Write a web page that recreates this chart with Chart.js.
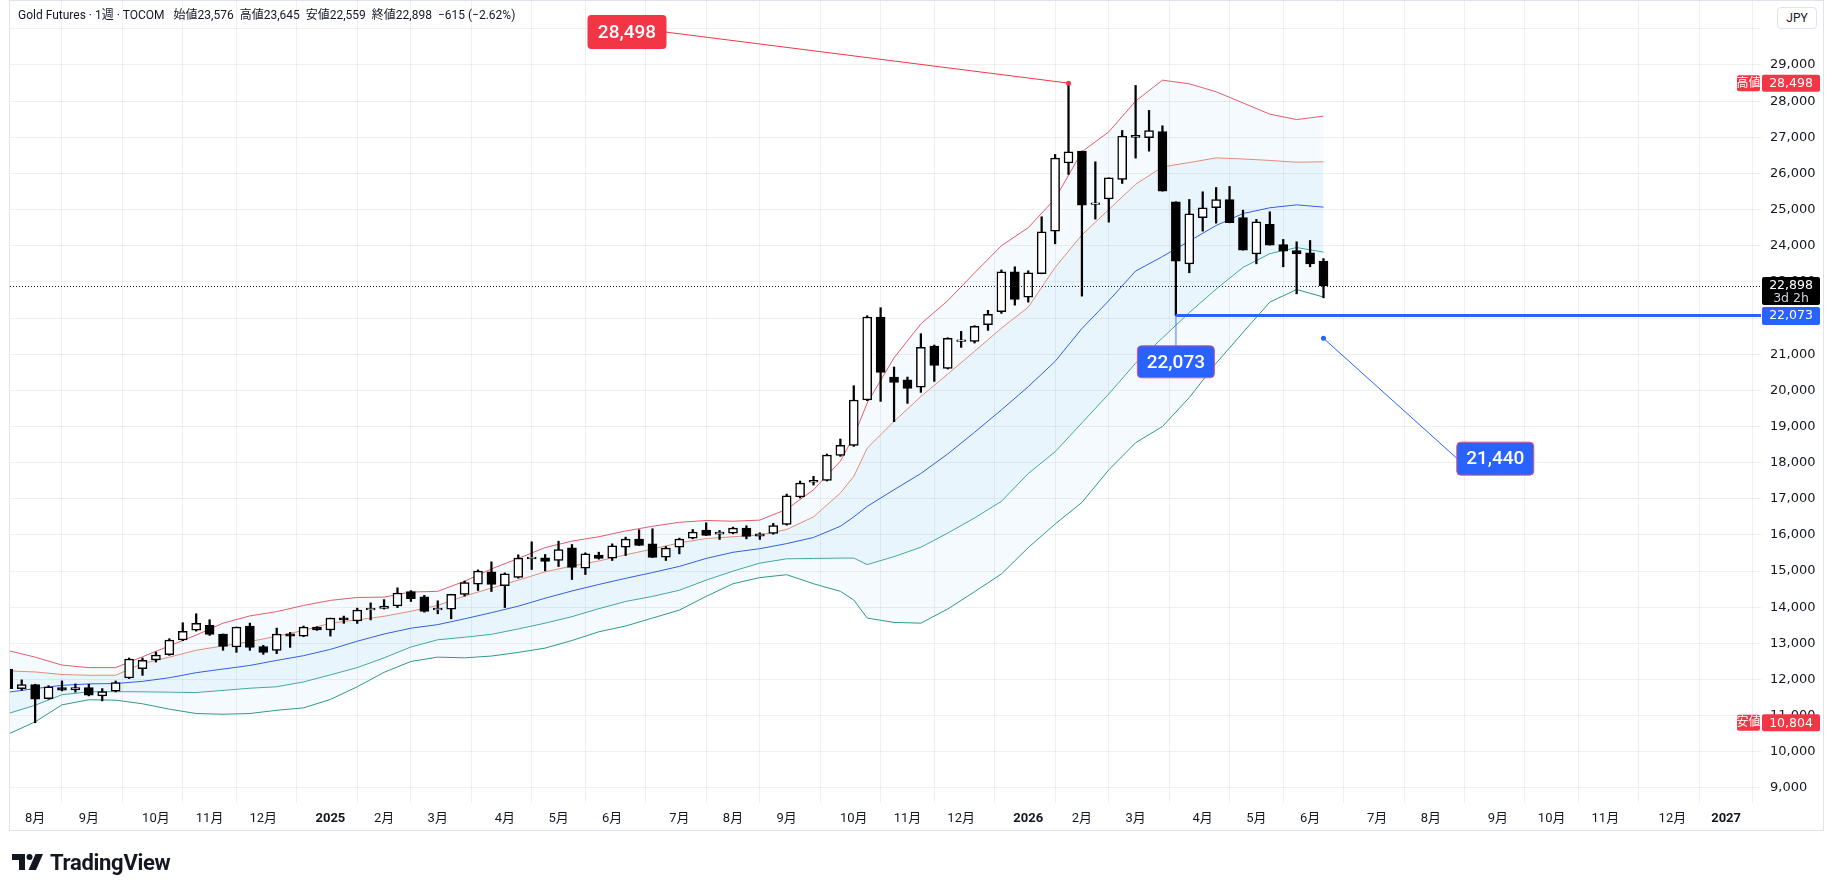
<!DOCTYPE html>
<html>
<head>
<meta charset="utf-8">
<script src="https://cdn.jsdelivr.net/npm/chart.js@4.4.1/dist/chart.umd.min.js"></script>
<style>
html, body { margin: 0; padding: 0; background: #fff; }
#wrap { position: relative; width: 1825px; height: 891px; overflow: hidden; font-family: Roboto, "Noto Sans CJK JP", sans-serif; }
#chart { position: absolute; left: 0; top: 0; }
#legend { position: absolute; left: 18px; top: 8px; font-size: 12px; line-height: 15px; color: #131722; white-space: pre; }
#legend span { margin-left: 6px; }
#ccy { position: absolute; left: 1777px; top: 7px; width: 38px; height: 20px; border: 1px solid #e0e3eb; border-radius: 4px; font-size: 12px; line-height: 20px; text-align: center; color: #131722; background: #fff; }
#logo { position: absolute; left: 12px; top: 851px; height: 22px; display: flex; align-items: center; }
#logo span { font-weight: bold; font-size: 22px; color: #131722; margin-left: 7px; letter-spacing: -0.3px; }
</style>
</head>
<body>
<div id="wrap">
  <canvas id="chart" width="1825" height="891"></canvas>
  <div id="legend">Gold Futures · 1週 · TOCOM <span>始値23,576</span><span>高値23,645</span><span>安値22,559</span><span>終値22,898</span><span>−615 (−2.62%)</span></div>
  <div id="ccy">JPY</div>
  <div id="logo">
    <svg width="31" height="16" viewBox="0 0 31 16"><path d="M0 0h13v16H7V6H0z" fill="#131722"/><circle cx="17.5" cy="3" r="3" fill="#131722"/><path d="M23.5 0H31l-7 16h-7.5z" fill="#131722"/></svg>
    <span>TradingView</span>
  </div>
</div>
<script>
// weekly candles, index 0 = week of 2024-07-22
const opens  = [12280,11750,11860,11474,11777,11713,11777,11548,11676,12044,12300,12540,12688,13093,13368,13498,13258,12900,13480,12910,
                12808,13267,13203,13452,13370,13710,13620,13925,13970,14040,14436,14290,13925,13950,14355,14637,14979,14600,14822,15340,
                15367,15293,15643,15080,15440,15357,15662,15883,15754,15385,15662,15911,16133,16022,16050,16188,15966,16040,16290,17049,
                17460,17510,18201,18478,19732,22028,20368,20294,20091,21226,20608,21350,21355,21816,22173,23279,22579,23224,24404,26294,
                26617,25140,25298,25833,26995,26986,27161,25216,23500,24773,25050,25280,24782,23777,24589,24035,23869,23805,23576];
const highs  = [12300,11990,11870,11830,11962,11880,11870,11750,11960,12596,12596,12762,13130,13571,13820,13654,13260,13452,13562,12946,
                13424,13304,13480,13460,13700,13756,13976,14120,14210,14537,14460,14330,14177,14360,14725,15034,15255,14951,15450,15810,
                15459,15828,15736,15505,15523,15754,15939,16142,16170,15680,15911,16151,16336,16123,16216,16253,16059,16320,17130,17491,
                17621,18238,18653,20128,22064,22286,20645,20368,21567,21253,21456,21631,21788,22212,23330,23418,23307,24801,26525,28498,
                26617,26322,25879,27189,28433,27742,27318,25216,25280,25492,25612,25640,24985,24727,24939,24174,24109,24146,23645];
const lows   = [11700,11705,10804,11455,11686,11650,11548,11410,11658,12026,12116,12484,12670,13074,13340,13222,12808,12753,12808,12697,
                12716,12890,13185,13360,13203,13553,13553,13650,13950,13991,14160,13864,13818,13680,14306,14463,14435,13991,14803,15043,
                15006,15127,14767,14905,15330,15293,15431,15708,15376,15293,15477,15892,15985,15874,16031,15892,15874,16020,16270,17021,
                17381,17492,18174,18450,19713,19695,19133,19640,19944,20248,20590,21189,21309,21659,22130,22357,22440,23224,24054,25972,
                22606,24736,24653,25723,26423,26617,25511,22073,23252,24404,24625,24635,23879,23500,24017,23418,22670,23418,22559];
const closes = [11750,11860,11455,11796,11704,11777,11566,11667,11915,12568,12530,12679,13093,13332,13553,13250,12918,13452,12890,12752,
                13258,13203,13452,13370,13700,13646,13921,13975,14030,14395,14240,13882,13975,14360,14680,14997,14633,14924,15357,15390,
                15265,15597,15099,15477,15348,15699,15883,15708,15376,15634,15883,16077,15985,16077,16188,15957,16031,16260,17085,17436,
                17510,18211,18478,19732,22028,20497,20220,20055,21189,20691,21438,21400,21770,22101,23279,22514,23252,24386,26423,26599,
                25123,25190,25879,27032,27051,27189,25511,23574,24883,25050,25280,24635,23879,24662,24017,23851,23777,23500,22898];

// band lines (read at these candle indices)
const bandIdx = [0,2,4,6,8,10,12,14,16,18,20,22,24,26,28,30,32,34,36,38,40,42,44,46,48,50,52,54,56,58,60,62,63,64,66,68,70,72,74,76,78,80,82,84,86,88,90,92,94,96,98];
const upper2 = [12800,12620,12400,12330,12330,12630,12930,13230,13560,13760,13880,14050,14190,14270,14280,14420,14440,14720,15060,15350,
                15650,15830,15950,16110,16240,16350,16400,16380,16410,16710,17250,18040,18730,19650,20900,21840,22480,23250,24000,24500,
                25300,26600,27150,28000,28580,28480,28260,27950,27640,27490,27585];
const upper1 = [12240,12210,12140,12118,12120,12440,12620,12810,12930,13050,13200,13360,13560,13650,13750,13890,14050,14310,14530,14750,
                14980,15140,15280,15450,15610,15780,15900,15950,16000,16150,16500,17160,17620,18400,19140,19830,20450,21080,21720,22300,
                23400,24300,25000,25700,26180,26300,26430,26400,26360,26310,26322];
const middle = [11650,11750,11840,11880,11890,11950,12050,12190,12290,12390,12530,12660,12835,13060,13260,13420,13520,13680,13850,14030,
                14250,14450,14630,14800,14960,15130,15350,15520,15620,15760,15930,16240,16500,16790,17250,17700,18240,18840,19460,20100,
                20800,21710,22480,23300,23700,24130,24560,24890,25050,25130,25068];
const lower1 = [11060,11290,11580,11660,11665,11660,11650,11640,11700,11760,11800,11934,12130,12330,12600,12900,13100,13170,13250,13400,
                13560,13740,13960,14160,14300,14470,14750,15000,15220,15340,15350,15360,15360,15180,15400,15660,16050,16470,16930,17700,
                18300,19100,19900,20750,21450,22150,22800,23400,23780,23950,23823];
const lower2 = [10490,10830,11300,11440,11430,11330,11180,11060,11040,11060,11150,11216,11450,11800,12200,12500,12620,12600,12650,12750,
                12870,13080,13320,13480,13700,13920,14300,14650,14820,14900,14650,14440,14200,13700,13580,13560,13950,14430,14920,15650,
                16300,16900,17800,18550,19000,19800,20750,21600,22440,22790,22580];

// time axis: candle index of first week of each month
const monthTickIdx = [2,6,11,15,19,24,28,32,37,41,45,50,54,58,63,67,71,76,80,84,89,93,97,102,106,111,115,119,124,128];
const monthTickLabels = ['8月','9月','10月','11月','12月','2025','2月','3月','4月','5月','6月','7月','8月','9月','10月','11月','12月',
                         '2026','2月','3月','4月','5月','6月','7月','8月','9月','10月','11月','12月','2027'];
const priceTicks = [9000,10000,11000,12000,13000,14000,15000,16000,17000,18000,19000,20000,21000,22000,23000,24000,25000,26000,27000,28000,29000,30000];

// marked levels
const rangeHigh = 28498, rangeHighIdx = 79;
const rangeLow = 10804;
const lastClose = 22898;
const supportLevel = 22073, supportIdx = 87;
const targetLevel = 21440, targetIdx = 98;

const FONT = 'Roboto, "Noto Sans CJK JP", sans-serif';
const AXIS_FONT = '"DejaVu Sans", "Noto Sans CJK JP", sans-serif';
const GRID = 'rgba(42,46,57,0.07)';

const overlay = {
  id: 'overlay',
  afterDraw(chart) {
    const { ctx, chartArea: a, scales: { x, y } } = chart;
    ctx.save();

    // frame
    ctx.strokeStyle = '#e0e3eb';
    ctx.lineWidth = 1;
    ctx.strokeRect(9.5, 0.5, 1814, 830);

    // last price dotted line
    const yLast = y.getPixelForValue(lastClose);
    ctx.strokeStyle = '#131722';
    ctx.setLineDash([1, 2]);
    ctx.beginPath(); ctx.moveTo(a.left, Math.round(yLast) + 0.5); ctx.lineTo(a.right, Math.round(yLast) + 0.5); ctx.stroke();
    ctx.setLineDash([]);

    // support line
    const yS = y.getPixelForValue(supportLevel);
    const xS = x.getPixelForValue(supportIdx);
    ctx.strokeStyle = 'rgba(41,98,255,0.45)';
    ctx.lineWidth = 2;
    ctx.beginPath(); ctx.moveTo(xS, yS); ctx.lineTo(xS, yS + 32); ctx.stroke();
    ctx.strokeStyle = '#2962ff';
    ctx.lineWidth = 3;
    ctx.beginPath(); ctx.moveTo(xS, yS); ctx.lineTo(a.right, yS); ctx.stroke();

    // callouts
    function box(cx, cy, w, h, fill, stroke, text) {
      ctx.beginPath();
      ctx.roundRect(cx - w / 2, cy - h / 2, w, h, 4);
      ctx.fillStyle = fill; ctx.fill();
      if (stroke) { ctx.strokeStyle = stroke; ctx.lineWidth = 1; ctx.stroke(); }
      ctx.fillStyle = '#fff';
      ctx.font = '500 19px ' + FONT;
      ctx.textAlign = 'center'; ctx.textBaseline = 'middle';
      ctx.fillText(text, cx, cy + 1);
    }
    function dot(px, py, color) {
      ctx.beginPath(); ctx.arc(px, py, 2.5, 0, Math.PI * 2); ctx.fillStyle = color; ctx.fill();
    }

    // high callout
    const xH = x.getPixelForValue(rangeHighIdx), yH = y.getPixelForValue(rangeHigh);
    const bxH = x.getPixelForValue(46.1), byH = y.getPixelForValue(29910);
    ctx.strokeStyle = '#f23645'; ctx.lineWidth = 1;
    ctx.beginPath(); ctx.moveTo(bxH + 39, byH); ctx.lineTo(xH, yH); ctx.stroke();
    dot(xH, yH, '#f23645');
    box(bxH, byH, 79, 34, '#f23645', null, rangeHigh.toLocaleString('en-US'));

    // support callout
    box(xS, y.getPixelForValue(20790), 77, 32, '#2962ff', '#d05a86', supportLevel.toLocaleString('en-US'));

    // target callout
    const xT = x.getPixelForValue(targetIdx), yT = y.getPixelForValue(targetLevel);
    const bxT = x.getPixelForValue(110.8), byT = y.getPixelForValue(18110);
    ctx.strokeStyle = '#2962ff'; ctx.lineWidth = 1;
    ctx.beginPath(); ctx.moveTo(xT, yT); ctx.lineTo(bxT - 38, byT); ctx.stroke();
    dot(xT, yT, '#2962ff');
    box(bxT, byT, 77, 33, '#2962ff', '#d05a86', targetLevel.toLocaleString('en-US'));

    // price axis tags
    const ax = a.right + 1, aw = 58;
    function tag(v, bg, text, h, sub) {
      const py = y.getPixelForValue(v);
      ctx.fillStyle = bg;
      ctx.beginPath(); ctx.roundRect(ax, py - 8.5, aw, h, 2); ctx.fill();
      ctx.fillStyle = '#fff';
      ctx.font = '12.5px ' + AXIS_FONT;
      ctx.textAlign = 'center'; ctx.textBaseline = 'middle';
      ctx.fillText(text, ax + aw / 2, py + 0.5);
      if (sub) {
        ctx.fillStyle = '#d1d4dc';
        ctx.fillText(sub, ax + aw / 2, py + 13);
      }
    }
    function sideTag(v, text) {
      const py = y.getPixelForValue(v);
      ctx.fillStyle = '#f23645';
      ctx.beginPath(); ctx.roundRect(a.right - 24, py - 8, 23, 16, 2); ctx.fill();
      ctx.fillStyle = '#fff';
      ctx.font = '12px ' + FONT;
      ctx.textAlign = 'center'; ctx.textBaseline = 'middle';
      ctx.fillText(text, a.right - 12.5, py + 0.5);
    }
    tag(lastClose, '#000', lastClose.toLocaleString('en-US'), 28, '3d 2h');
    tag(supportLevel, '#2962ff', supportLevel.toLocaleString('en-US'), 18);
    tag(rangeHigh, '#f23645', rangeHigh.toLocaleString('en-US'), 17);
    sideTag(rangeHigh, '高値');
    tag(rangeLow, '#f23645', rangeLow.toLocaleString('en-US'), 17);
    sideTag(rangeLow, '安値');

    ctx.restore();
  }
};

function bandSet(values, color, fillTarget, fillColor) {
  return {
    type: 'line',
    data: bandIdx.map((v, k) => ({ x: v, y: values[k] })),
    borderColor: color,
    borderWidth: 1,
    pointRadius: 0,
    tension: 0,
    fill: fillTarget === null ? false : { target: fillTarget },
    backgroundColor: fillColor,
    order: 3
  };
}

new Chart(document.getElementById('chart').getContext('2d'), {
  type: 'bar',
  data: {
    datasets: [
      bandSet(upper2, '#e35d6a', 4, 'rgba(33,150,243,0.05)'),
      bandSet(upper1, '#ee8a70', 3, 'rgba(33,150,243,0.05)'),
      bandSet(middle, '#3358e0', null, 'transparent'),
      bandSet(lower1, '#45a89c', null, 'transparent'),
      bandSet(lower2, '#2f9a85', null, 'transparent'),
      {
        type: 'bar',
        data: lows.map((l, i) => ({ x: i, y: [l, highs[i]] })),
        backgroundColor: '#000',
        barThickness: 1.6,
        grouped: false,
        order: 2
      },
      {
        type: 'bar',
        data: opens.map((o, i) => ({ x: i, y: [o, closes[i]] })),
        backgroundColor: opens.map((o, i) => closes[i] >= o ? '#fff' : '#000'),
        borderColor: '#000',
        borderWidth: 1.5,
        borderSkipped: false,
        barThickness: 9,
        grouped: false,
        order: 1
      }
    ]
  },
  options: {
    responsive: false,
    animation: false,
    devicePixelRatio: 1,
    layout: { padding: { left: 10, top: 1, right: 0, bottom: 61 } },
    plugins: { legend: { display: false }, tooltip: { enabled: false } },
    scales: {
      x: {
        type: 'linear',
        min: 0.1267,
        max: 130.6,
        offset: false,
        afterBuildTicks: s => { s.ticks = monthTickIdx.map(v => ({ value: v })); },
        afterFit: s => { s.height = 27; s.paddingLeft = 0; s.paddingRight = 0; },
        grid: { color: GRID, drawTicks: false },
        border: { display: false },
        ticks: {
          autoSkip: false,
          maxRotation: 0,
          padding: 8,
          color: '#131722',
          font: c => ({ family: FONT, size: 13, weight: /^20/.test(monthTickLabels[c.index] || '') ? 'bold' : 'normal' }),
          callback: (v, i) => monthTickLabels[i]
        }
      },
      y: {
        position: 'right',
        min: 8585,
        max: 30770,
        afterBuildTicks: s => { s.ticks = priceTicks.map(v => ({ value: v })); },
        afterFit: s => { s.width = 64; s.paddingTop = 0; s.paddingBottom = 0; },
        grid: { color: GRID, drawTicks: false },
        border: { display: false },
        ticks: {
          padding: 9,
          color: '#131722',
          font: { family: AXIS_FONT, size: 13 },
          callback: v => v === 30000 ? '' : v.toLocaleString('en-US')
        }
      }
    }
  },
  plugins: [overlay]
});
</script>
</body>
</html>
